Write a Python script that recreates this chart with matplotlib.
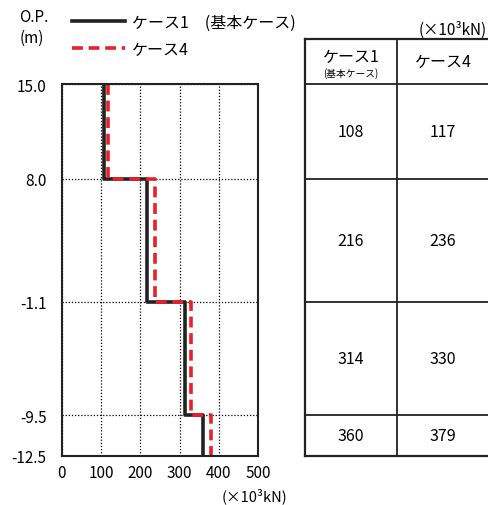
import matplotlib
matplotlib.use("Agg")
import matplotlib.pyplot as plt
from matplotlib.lines import Line2D

plt.rcParams['font.family'] = ['Noto Sans CJK JP', 'DejaVu Sans']

# elevation boundaries (O.P. m) and segment values (x10^3 kN)
levels = [15.0, 8.0, -1.1, -9.5, -12.5]
level_labels = ['15.0', '8.0', '-1.1', '-9.5', '-12.5']
case1 = [108, 216, 314, 360]
case4 = [117, 236, 330, 379]
xticks = [0, 100, 200, 300, 400, 500]


def step_xy(vals):
    xs, ys = [], []
    for i, v in enumerate(vals):
        xs += [v, v]
        ys += [levels[i], levels[i + 1]]
    return xs, ys


W, H = 488, 506
fig = plt.figure(figsize=(W / 100, H / 100), dpi=100)

# main plot
ax = fig.add_axes([62 / W, 1 - 457 / H, (258 - 62) / W, (457 - 85) / H])
x1, y1 = step_xy(case1)
x4, y4 = step_xy(case4)
ax.plot(x1, y1, color='#222222', lw=2.6, zorder=3)
ax.plot(x4, y4, color='#e8202a', lw=2.6, dashes=(3, 1.6), zorder=4)
ax.set_xlim(0, 500)
ax.set_ylim(-12.5, 15.0)
ax.set_xticks(xticks)
ax.set_xticklabels([str(t) for t in xticks], fontsize=11)
ax.set_yticks(levels)
ax.set_yticklabels(level_labels, fontsize=11)
ax.tick_params(axis='y', length=0, pad=11)
ax.tick_params(axis='x', length=0, pad=6)
ax.grid(True, color='black', linestyle=(0, (1, 1.5)), linewidth=0.9)
for s in ax.spines.values():
    s.set_linewidth(1.5)
    s.set_color('#222222')
    s.set_zorder(5)

fig.text(48 / W, 1 - 18 / H, 'O.P.', ha='right', va='center', fontsize=11)
fig.text(44 / W, 1 - 38 / H, '(m)', ha='right', va='center', fontsize=11)
fig.text(287 / W, 1 - 496 / H, '(×10³kN)', ha='right', va='center', fontsize=10.5)

handles = [Line2D([], [], color='#222222', lw=2.6),
           Line2D([], [], color='#e8202a', lw=2.6, dashes=(3, 1.6))]
fig.legend(handles, ['ケース1　(基本ケース)', 'ケース4'], loc='upper left',
           bbox_to_anchor=(72 / W, 1 - 15 / H), frameon=False, fontsize=11.5,
           handlelength=3.3, handletextpad=0.45, labelspacing=0.6,
           borderaxespad=0, borderpad=0)

# value table, sharing the elevation scale
top_px = 40
ytop = 15.0 + (85 - top_px) / (457 - 85) * 27.5
tb = fig.add_axes([305 / W, 1 - 457 / H, (489 - 305) / W, (457 - top_px) / H])
tb.set_xlim(0, 2)
tb.set_ylim(-12.5, ytop)
tb.set_xticks([])
tb.set_yticks([])
for k, s in tb.spines.items():
    s.set_linewidth(1.6)
    s.set_color('#222222')
tb.spines['right'].set_visible(False)
for lv in levels[:-1]:
    tb.axhline(lv, color='#222222', lw=1.3)
tb.axvline(1, color='#222222', lw=1.3)

tb.text(0.5, 15.0 + (ytop - 15.0) * 0.62, 'ケース1', ha='center', va='center', fontsize=11.5)
tb.text(0.5, 15.0 + (ytop - 15.0) * 0.25, '(基本ケース)', ha='center', va='center', fontsize=7)
tb.text(1.5, (ytop + 15.0) / 2, 'ケース4', ha='center', va='center', fontsize=11.5)
for i in range(len(case1)):
    yc = (levels[i] + levels[i + 1]) / 2
    tb.text(0.5, yc, str(case1[i]), ha='center', va='center', fontsize=11.5)
    tb.text(1.5, yc, str(case4[i]), ha='center', va='center', fontsize=11.5)

fig.text(487 / W, 1 - 30 / H, '(×10³kN)', ha='right', va='center', fontsize=11)

fig.savefig('out.png', dpi=100)
